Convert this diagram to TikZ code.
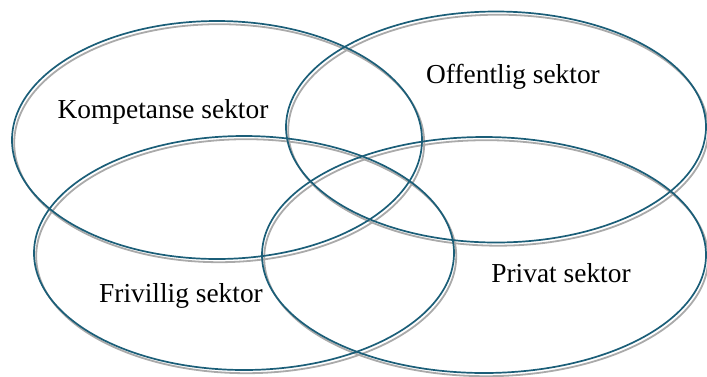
\documentclass[tikz,border=0pt]{standalone}
\usepackage{fontspec}
\setmainfont{Liberation Serif}
\definecolor{ringteal}{HTML}{1B5E78}
\definecolor{ringshade}{HTML}{AAAAAA}
\begin{document}
\begin{tikzpicture}[x=1bp,y=-1bp,
  ring/.style={draw=ringteal,line width=1.7bp},
  ringshadow/.style={draw=ringshade,line width=1.8bp,shift={(2.2,3.2)}},
  label/.style={font=\fontsize{27.5}{32}\selectfont,text=black,inner sep=0pt}]
\useasboundingbox (0,0) rectangle (707,376);
% soft grey shadows under the four sector rings
\foreach \cx/\cy/\rx/\ry in {217/140/205/119, 496/127/210/115.5, 244/253/210/117, 484/255/222/118}
  \draw[ringshadow] (\cx,\cy) ellipse [x radius=\rx, y radius=\ry];
% the four sector rings
\draw[ring] (217,140) ellipse [x radius=205, y radius=119];
\draw[ring] (496,127) ellipse [x radius=210, y radius=115.5];
\draw[ring] (244,253) ellipse [x radius=210, y radius=117];
\draw[ring] (484,255) ellipse [x radius=222, y radius=118];
% sector names
\node[label] (komp) at (163,112) {Kompetanse sektor};
\node[label] (off)  at (513,77)  {Offentlig sektor};
\node[label] (friv) at (181,296) {Frivillig sektor};
\node[label] (priv) at (561,273) {Privat sektor};
\end{tikzpicture}
\end{document}
